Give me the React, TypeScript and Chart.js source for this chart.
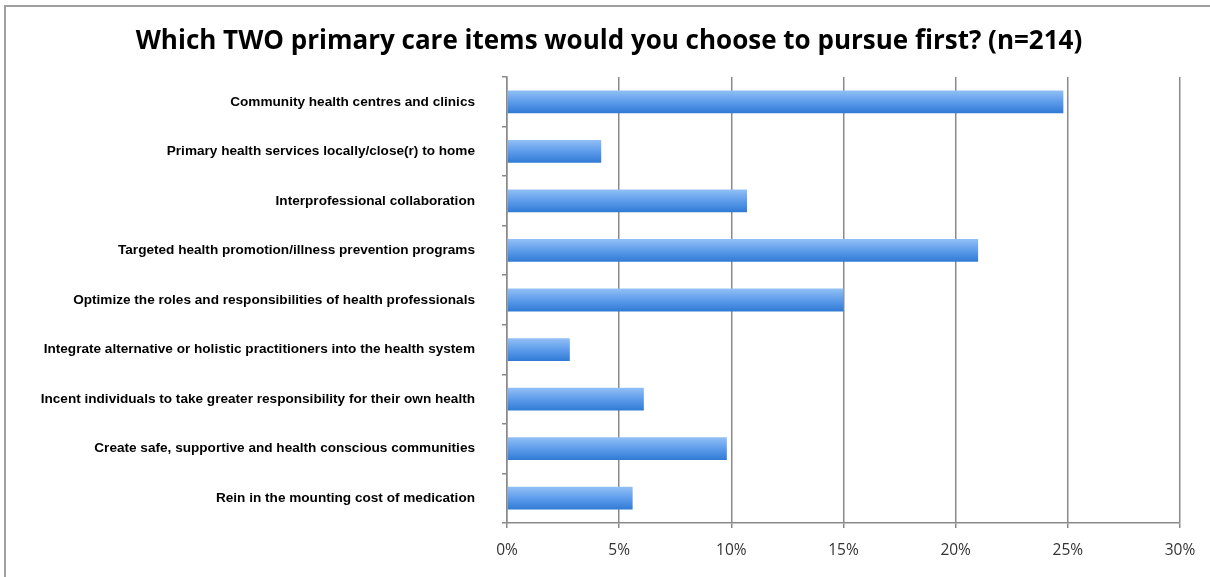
import React, { useEffect, useRef } from "react";
import { Chart, registerables } from "chart.js";

Chart.register(...registerables);

const TITLE = "Which TWO primary care items would you choose to pursue first? (n=214)";

const categories = [
  "Community health centres and clinics",
  "Primary health services locally/close(r) to home",
  "Interprofessional collaboration",
  "Targeted health promotion/illness prevention programs",
  "Optimize the roles and responsibilities of health professionals",
  "Integrate alternative or holistic practitioners into the health system",
  "Incent individuals to take greater responsibility for their own health",
  "Create safe, supportive and health conscious communities",
  "Rein in the mounting cost of medication",
];

const values = [24.8, 4.2, 10.7, 21.0, 15.0, 2.8, 6.1, 9.8, 5.6];

const xTicks = [0, 5, 10, 15, 20, 25, 30];

const titlePlugin = {
  id: "customTitle",
  afterDraw(chart: any) {
    const ctx = chart.ctx;
    ctx.save();
    ctx.font = "bold 26px 'Open Sans', 'Liberation Sans'";
    ctx.fillStyle = "#000";
    ctx.textAlign = "center";
    ctx.textBaseline = "middle";
    ctx.fillText(TITLE, 609, 42);
    ctx.restore();
  },
};

export default function App() {
  const ref = useRef<HTMLCanvasElement | null>(null);

  useEffect(() => {
    document.body.style.margin = "0";
    const canvas = ref.current;
    if (!canvas) return;
    const chart = new Chart(canvas, {
      type: "bar",
      data: {
        labels: categories,
        datasets: [
          {
            data: values,
            backgroundColor: (ctx: any) => {
              const c = ctx.chart;
              const ys = c.scales && c.scales.y;
              if (!ys || ctx.dataIndex === undefined) return "#4a8fe0";
              const y = ys.getPixelForValue(ctx.dataIndex);
              if (!isFinite(y)) return "#4a8fe0";
              const g = c.ctx.createLinearGradient(0, y - 11.5, 0, y + 11.5);
              g.addColorStop(0, "#93c0f5");
              g.addColorStop(0.5, "#5e9ceb");
              g.addColorStop(1, "#2f7ad4");
              return g;
            },
            borderWidth: 0,
            barPercentage: 0.46,
            categoryPercentage: 1,
          },
        ],
      },
      options: {
        indexAxis: "y",
        animation: false,
        responsive: false,
        maintainAspectRatio: false,
        layout: { padding: { left: 0, right: 30, top: 77, bottom: 0 } },
        plugins: {
          legend: { display: false },
          tooltip: { enabled: false },
          title: { display: false },
        },
        scales: {
          x: {
            type: "linear",
            min: 0,
            max: 30,
            afterBuildTicks: (s: any) => {
              s.ticks = xTicks.map((v) => ({ value: v }));
            },
            afterFit: (s: any) => {
              s.height = 54;
            },
            ticks: {
              callback: (v: any) => v + "%",
              color: "#333",
              font: { family: "'Open Sans', 'Liberation Sans'", size: 15.5 },
              padding: 13,
            },
            grid: {
              color: "#8a8a8a",
              lineWidth: 1.5,
              tickLength: 5,
              drawOnChartArea: true,
            },
            border: { color: "#8a8a8a", width: 1.5 },
          },
          y: {
            type: "category",
            afterFit: (s: any) => {
              s.width = 507;
            },
            ticks: {
              color: "#000",
              font: { family: "'Liberation Sans', Arial", size: 13.6, weight: "bold" },
              padding: 27,
            },
            grid: {
              offset: true,
              drawOnChartArea: false,
              color: "#8a8a8a",
              lineWidth: 1.5,
              tickLength: 5,
            },
            border: { color: "#8a8a8a", width: 1.5 },
          },
        },
      },
      plugins: [titlePlugin],
    } as any);
    return () => chart.destroy();
  }, []);

  return (
    <div style={{ position: "relative", width: 1210, height: 577, background: "#fff", overflow: "hidden" }}>
      <canvas ref={ref} width={1210} height={577} style={{ position: "absolute", left: 0, top: 0 }} />
      <div
        style={{
          position: "absolute",
          left: 4,
          top: 5,
          width: 1300,
          height: 700,
          borderLeft: "2px solid #a0a0a0",
          borderTop: "2px solid #a0a0a0",
          pointerEvents: "none",
        }}
      />
    </div>
  );
}
